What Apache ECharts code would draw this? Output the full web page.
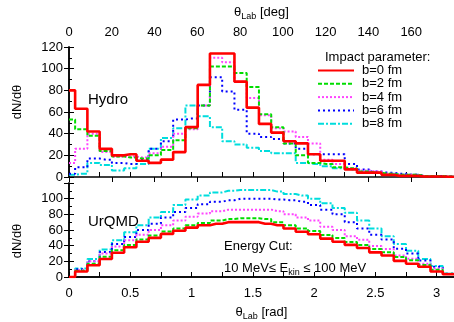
<!DOCTYPE html>
<html><head><meta charset="utf-8">
<script src="https://cdn.jsdelivr.net/npm/echarts@6/dist/echarts.min.js"></script>
<style>html,body{margin:0;padding:0;background:#fff}#c{width:454px;height:322px}</style>
</head><body><div id="c"></div>
<script>
// bin centres in radians
const binCenters = [0,0.1,0.2,0.3,0.4,0.5,0.6,0.7,0.8,0.9,1.0,1.1,1.2,1.3,1.4,1.5,1.6,1.7,1.8,1.9,2.0,2.1,2.2,2.3,2.4,2.5,2.6,2.7,2.8,2.9,3.0,3.1];
const seriesNames = ['b=0 fm','b=2 fm','b=4 fm','b=6 fm','b=8 fm'];
// Hydro panel
const hydroB0 = [80,63,42,26,20,21,15,13,16,23,46,85,114,114,88,64,49,41,33,31,21,15,15,7,4,4,2,1,1,0.5,0.5,0.3];
const hydroB2 = [53,44,38,24,19,18,17,20,25,34,45,66,102,102,96,83,58,46,31,20,13,12,9,8,5,4,3,2,2,1,1,0.5];
const hydroB4 = [13,26,40,23,19,19,18,22,28,40,44,66,110,106,88,73,57,45,42,37,31,16,12,8,6,5,3,2,2,1,1,0.5];
const hydroB6 = [3,9,17,16,13,12,16,26,33,53,54,66,92,79,62,40,37,35,31,26,21,21,21,12,7,5,4,3,2,1,1,0.5];
const hydroB8 = [2,3,13,11,6,8,12,26,36,45,66,56,46,33,30,27,24,22,22,13,12,10,8,7,5,4,3,2,2,1,1,0.5];
// UrQMD panel
const urqmdB0 = [0,7,15,23,31,38,45,50,55,59,63,66,68,70,70,70,68,66,62,57.8,54.5,49,45,41,37,31.5,27.5,20.6,17,13,7,3.6];
const urqmdB2 = [0,8,17,26,34,41,48,53,58,62,66,69,72,74,75,75,74,70,66,62,58.6,53.7,49.7,44.8,40.8,35.6,31.5,25.5,21.4,15.4,9.3,4];
const urqmdB4 = [0,9,20,30,39,47,54,60,66,72,77,81,84,86,86,86,86,84,80,76,72,64,60,52,47.6,39.6,35.6,27.5,23.4,17,11,4];
const urqmdB6 = [0,10,20,32,42,51,60,68,76,83,88,93,96,98,100,100,100,99,98,96,92,86,80,70,62,54,48,36,30,21,13,4];
const urqmdB8 = [0,11,23,35,47,57,66,76,83,92,99,104,108,110,111,111,111,109,106,104,100,94,88,82,72,62,52,42,33.5,23,14,4];
// tick labels
const degTickLabels = [0,20,40,60,80,100,120,140,160];
const radTickLabels = [0,0.5,1,1.5,2,2.5,3];
const yTickLabels = [0,20,40,60,80,100,120];

const X_MAX = Math.PI;
const hydro = [hydroB0,hydroB2,hydroB4,hydroB6,hydroB8];
const urqmd = [urqmdB0,urqmdB2,urqmdB4,urqmdB6,urqmdB8];
const colors = ['#ff0000','#00dd00','#ff44ff','#0000ff','#00dddd'];
const dashes = ['solid',[4,2],[2,2],[2,3],[6,2,2,2]];
const widths = [2.6,2,2,2,2];
const FONT = 'Liberation Sans';

function toData(vals){
  const d = binCenters.map((x,i)=>[x,vals[i]]);
  d.push([X_MAX, vals[vals.length-1]]);
  return d;
}
const series = [];
[hydro, urqmd].forEach((set, p) => {
  set.forEach((vals, i) => {
    series.push({
      type:'line', name: seriesNames[i], step:'middle', symbol:'none',
      xAxisIndex: p===0?1:2, yAxisIndex: p===0?0:2,
      data: toData(vals), z: 10 - i,
      lineStyle:{color:colors[i], width:widths[i], type:dashes[i]},
      itemStyle:{color:colors[i]}
    });
  });
});

const axisLine = {show:true, lineStyle:{color:'#000', width:1.5}};
const lbl = {fontFamily:FONT, fontSize:13, color:'#000'};
function yAx(grid, pos, labels, hide120){
  return {type:'value', gridIndex:grid, position:pos, min:0, max:120, interval:20,
    axisLine, splitLine:{show:false},
    axisTick:{show:true, inside:true, length:5, lineStyle:{color:'#000'}},
    minorTick:{show:pos==='left', splitNumber:2, length:3, lineStyle:{color:'#000'}},
    axisLabel: labels ? Object.assign({margin:6, formatter:v=> (hide120 && v===120) ? '' : (yTickLabels.includes(v)? String(v):'')}, lbl) : {show:false}};
}
function fmtRad(v){
  const m = radTickLabels.find(t=>Math.abs(t-v)<1e-6);
  return m===undefined ? '' : String(m);
}
const subRich = {a:{fontFamily:FONT,fontSize:13,color:'#000'}, s:{fontFamily:FONT,fontSize:9,color:'#000',verticalAlign:'bottom',padding:[8,0,0,0]}};
const option = {
  animation:false,
  grid:[{left:69, top:47, width:385, height:130},{left:69, top:183, width:385, height:98}],
  xAxis:[
    {type:'value', gridIndex:0, position:'top', min:0, max:180, interval:20, axisLine,
      splitLine:{show:false}, axisTick:{inside:true, length:5, lineStyle:{color:'#000'}},
      axisLabel:Object.assign({margin:8, showMaxLabel:false, formatter:v=>degTickLabels.includes(v)?String(v):''}, lbl),
      name:'{a|θ}{s|Lab}{a| [deg]}', nameLocation:'middle', nameGap:26,
      nameTextStyle:{rich:subRich}},
    {type:'value', gridIndex:0, position:'bottom', min:0, max:X_MAX, interval:0.25,
      axisLine:{show:false}, splitLine:{show:false},
      axisTick:{inside:true, length:5, lineStyle:{color:'#000'}}, axisLabel:{show:false}},
    {type:'value', gridIndex:1, position:'bottom', min:0, max:X_MAX, interval:0.25, axisLine,
      splitLine:{show:false}, axisTick:{inside:true, length:5, lineStyle:{color:'#000'}},
      axisLabel:Object.assign({margin:10, showMaxLabel:false, formatter:fmtRad}, lbl),
      name:'{a|θ}{s|Lab}{a| [rad]}', nameLocation:'middle', nameGap:27,
      nameTextStyle:{rich:subRich}},
    {type:'value', gridIndex:1, position:'top', min:0, max:X_MAX, interval:0.25, axisLine,
      splitLine:{show:false}, axisTick:{show:false}, axisLabel:{show:false}}
  ],
  yAxis:[yAx(0,'left',true,false), yAx(0,'right',false,false), yAx(1,'left',true,true), yAx(1,'right',false,false)],
  legend:{data:seriesNames, orient:'vertical', left:317, top:64, padding:0, itemWidth:36, itemHeight:4, itemGap:0.3,
    itemStyle:{color:'rgba(0,0,0,0)', borderColor:'rgba(0,0,0,0)', borderWidth:0, opacity:0},
    textStyle:{fontFamily:FONT, fontSize:13, color:'#000', lineHeight:13, padding:[0,0,0,3]}, inactiveColor:'#ccc'},
  graphic:[
    {type:'text', left:325, top:51, style:{text:'Impact parameter:', font:'13px '+FONT, fill:'#000'}},
    {type:'text', left:88, top:92, style:{text:'Hydro', font:'15px '+FONT, fill:'#000'}},
    {type:'text', left:88, top:214, style:{text:'UrQMD', font:'15px '+FONT, fill:'#000'}},
    {type:'text', left:224, top:240, style:{text:'Energy Cut:', font:'13px '+FONT, fill:'#000'}},
    {type:'text', left:224, top:262, style:{text:'{a|10 MeV≤ E}{s|kin}{a| ≤ 100 MeV}', rich:{a:{font:'13px '+FONT, fill:'#000'}, s:{font:'9px '+FONT, fill:'#000', verticalAlign:'bottom', padding:[8,0,0,0]}}}},
    {type:'text', x:17, y:102, rotation:Math.PI/2, style:{text:'dN/dθ', font:'13px '+FONT, fill:'#000', align:'center', verticalAlign:'middle'}},
    {type:'text', x:17, y:241, rotation:Math.PI/2, style:{text:'dN/dθ', font:'13px '+FONT, fill:'#000', align:'center', verticalAlign:'middle'}}
  ],
  series
};
echarts.init(document.getElementById('c'), null, {renderer:'canvas'}).setOption(option);
</script></body></html>
